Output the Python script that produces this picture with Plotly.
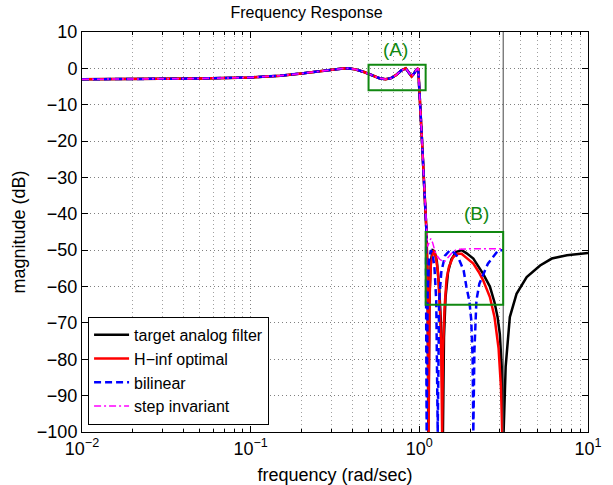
import math
import plotly.graph_objects as go

# ---- data (frequency in rad/sec, magnitude in dB) ----
pass_freq = [0.01, 0.02, 0.05, 0.1, 0.15, 0.2, 0.25, 0.3, 0.35, 0.38, 0.42, 0.47,
             0.52, 0.58, 0.63, 0.68, 0.73, 0.78, 0.83, 0.87, 0.9, 0.93, 0.96, 0.985]
pass_db = [-3.0, -3.0, -2.8, -2.5, -2.0, -1.4, -0.8, -0.35, -0.05, 0.0, -0.3, -1.0,
           -1.9, -2.7, -3.0, -2.7, -1.8, -0.6, 0.0, -1.2, -2.2, -1.4, -0.4, 0.0]

trans_freq = [1.0, 1.02, 1.04, 1.06, 1.08, 1.10]
trans_db = [-5.0, -13.5, -21.0, -29.0, -36.5, -44.0]

target_freq = [1.12, 1.13, 1.15, 1.17, 1.20, 1.23, 1.27, 1.31, 1.35, 1.38, 1.40, 1.43,
               1.48, 1.55, 1.65, 1.78, 1.9, 2.09, 2.39, 2.62, 2.79, 2.91, 3.0, 3.08,
               3.16, 3.25, 3.44, 3.77, 4.33, 5.2, 6.1, 7.5, 10.0]
target_db = [-58, -100, -62, -53, -50, -50.3, -53, -60, -72, -100, -74, -63,
             -56, -52.5, -50.5, -50, -50.8, -52.3, -56.5, -60, -64.3, -68.4, -73, -82,
             -100, -82, -68.4, -62, -57.4, -54.2, -52.3, -51.4, -50.8]

hinf_freq = [1.12, 1.135, 1.15, 1.17, 1.21, 1.25, 1.29, 1.33, 1.35, 1.365, 1.38, 1.41,
             1.45, 1.5, 1.58, 1.68, 1.78, 1.9, 2.09, 2.25, 2.39, 2.62, 2.79, 2.95, 3.05, 3.1]
hinf_db = [-58, -100, -63, -54, -50, -51.5, -56, -68, -80, -100, -78, -66,
           -58, -54.5, -52, -51, -51, -52, -53.7, -56, -58.3, -62.9, -68.4, -77, -88, -100]

bilin_freq = [1.095, 1.105, 1.12, 1.14, 1.17, 1.20, 1.23, 1.26, 1.285, 1.31, 1.35, 1.42,
              1.52, 1.62, 1.70, 1.83, 1.90, 1.98, 2.03, 2.07, 2.09, 2.12, 2.18, 2.27,
              2.55, 2.94, 3.14]
bilin_db = [-55, -100, -62, -53, -50, -51, -55, -64, -100, -64, -56, -51.5,
            -50, -50.8, -52, -55.5, -60, -64, -69, -80, -100, -78, -63.8, -59.2,
            -53.7, -50, -50]

step_freq = [1.12, 1.14, 1.17, 1.20, 1.25, 1.32, 1.40, 1.48, 1.58, 1.67, 2.0, 2.5, 3.14]
step_db = [-49, -48, -46.8, -48, -51, -52.5, -53.3, -52, -50.5, -49.8, -49.6, -49.6, -49.6]

series_names = ["target analog filter", "H\u2212inf optimal", "bilinear", "step invariant"]

x_tick_vals = [0.01, 0.1, 1, 10]
x_tick_text = ["10<sup>\u22122</sup>", "10<sup>\u22121</sup>", "10<sup>0</sup>", "10<sup>1</sup>"]
x_minor_vals = [m * 10.0 ** e for e in (-2, -1, 0) for m in range(2, 10)]
y_tick_vals = list(range(-100, 11, 10))

nyquist = 3.14159
box_a = dict(x0=0.5, x1=1.09, y0=-6, y1=1)
box_b = dict(x0=1.09, x1=3.14159, y0=-65, y1=-45)

FONT = "Liberation Sans, Arial, Helvetica, sans-serif"
GREEN = "#118811"

fig = go.Figure()
fig.add_trace(go.Scatter(x=pass_freq + trans_freq + target_freq,
                         y=pass_db + trans_db + target_db, mode="lines",
                         name=series_names[0], line=dict(color="black", width=2.5)))
fig.add_trace(go.Scatter(x=pass_freq + trans_freq + hinf_freq,
                         y=pass_db + trans_db + hinf_db, mode="lines",
                         name=series_names[1], line=dict(color="#ff0000", width=2.5)))
fig.add_trace(go.Scatter(x=pass_freq + trans_freq + bilin_freq,
                         y=pass_db + trans_db + bilin_db, mode="lines",
                         name=series_names[2],
                         line=dict(color="#0000ff", width=2.5, dash="7px,4px")))
fig.add_trace(go.Scatter(x=pass_freq + trans_freq + step_freq,
                         y=pass_db + trans_db + step_db, mode="lines",
                         name=series_names[3],
                         line=dict(color="#ff00ff", width=1.5, dash="7px,3px,2px,3px")))

# vertical line at Nyquist
fig.add_shape(type="line", xref="x", yref="paper", x0=nyquist, x1=nyquist, y0=0, y1=1,
              line=dict(color="#444444", width=1))
for b in (box_a, box_b):
    fig.add_shape(type="rect", xref="x", yref="y", **b,
                  line=dict(color=GREEN, width=2), fillcolor="rgba(0,0,0,0)")

fig.add_annotation(x=math.log10(0.726), y=5.2, text="(A)", showarrow=False,
                   font=dict(color=GREEN, size=19, family=FONT))
fig.add_annotation(x=math.log10(2.19), y=-40, text="(B)", showarrow=False,
                   font=dict(color=GREEN, size=19, family=FONT))

axis_common = dict(showline=True, linecolor="black", linewidth=1, mirror="ticks",
                   ticks="inside", ticklen=6, tickcolor="black", automargin=False,
                   showgrid=True, gridcolor="#808080", griddash="1px,3px", gridwidth=1,
                   zeroline=False, tickfont=dict(size=18, color="black", family=FONT))

fig.update_xaxes(type="log", range=[-2, 1], tickmode="array", tickvals=x_tick_vals,
                 ticktext=x_tick_text,
                 minor=dict(tickmode="array", tickvals=x_minor_vals, ticks="inside",
                            ticklen=3, tickcolor="black", showgrid=True,
                            gridcolor="#a0a0a0", griddash="1px,3px", gridwidth=1),
                 title=dict(text="frequency (rad/sec)", font=dict(size=18, family=FONT),
                            standoff=12),
                 **axis_common)
fig.update_yaxes(range=[-100, 10], tickmode="array", tickvals=y_tick_vals,
                 title=dict(text="magnitude (dB)", font=dict(size=18, family=FONT),
                            standoff=6),
                 **axis_common)

fig.update_layout(
    width=613, height=485,
    margin=dict(l=82, r=25, t=32, b=53),
    paper_bgcolor="white", plot_bgcolor="white",
    font=dict(family=FONT, color="black"),
    title=dict(text="Frequency Response", x=0.5, xanchor="center", y=0.975,
               yanchor="middle", font=dict(size=16, family=FONT, color="black")),
    showlegend=True,
    legend=dict(x=0.012, y=0.018, xanchor="left", yanchor="bottom",
                bgcolor="white", bordercolor="black", borderwidth=1,
                font=dict(size=16, family=FONT), tracegroupgap=0, itemwidth=35),
)

fig.write_html("out.html", config={"displayModeBar": False},
               post_script="document.body.style.margin='0';")
